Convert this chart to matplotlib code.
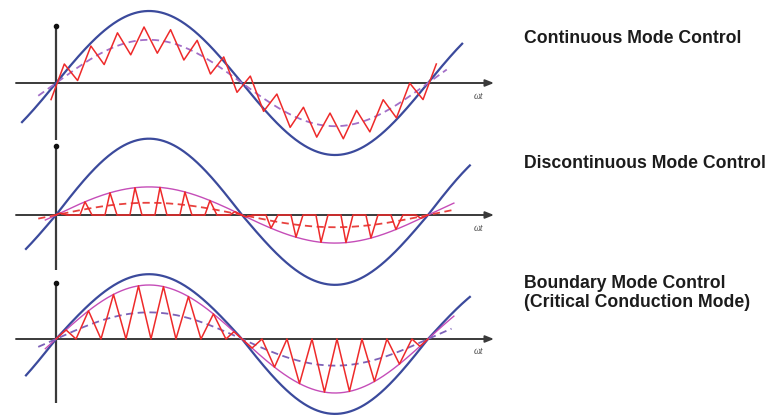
import numpy as np
import matplotlib.pyplot as plt

# ---- waveform data (amplitudes normalised to the first panel's line voltage) ----
modes = ['Continuous Mode Control',
         'Discontinuous Mode Control',
         'Boundary Mode Control\n(Critical Conduction Mode)']

v_peak = [1.00, 1.06, 0.90]      # line voltage, positive half
v_trough = [1.00, 0.97, 1.04]    # line voltage, negative half
i_avg = [0.60, 0.17, 0.37]       # average input current (dashed)
i_env = [None, 0.39, 0.75]       # peak current envelope

ccm_ripple = 0.18                # CCM ripple half height
ccm_ramps = 14                   # ramps per half line cycle
ccm_phase = -0.084               # rad, first valley

dcm_first = 0.49                 # rad, first spike after a zero crossing
dcm_step = 0.422                 # rad between spikes
dcm_rise, dcm_fall = 0.085, 0.118

bcm_first = 0.338                # rad, first zero touch
bcm_step = 0.422

# ---- layout ----
W, H = 768, 417
X0 = 56                          # vertical axis position, px
PX_RAD = 186 / np.pi             # px per radian
UNIT = 72                        # px per unit amplitude
axis_y = [83, 215, 339]
vaxis = [(26, 140), (146, 270), (283, 403)]
blue_span = [(-0.574, 6.86), (-0.507, 6.99), (-0.507, 6.99)]
dash_span = [(-0.30, 6.60), (-0.30, 6.68), (-0.30, 6.68)]
text_y = [38, 163, 293]

BLUE = '#3b4a9c'
RED = '#ee2a2a'
MAG = '#c54db8'
dash_col = ['#a36fc8', '#e8423f', '#7d62b8']
AXC = '#3a3a3a'

fig = plt.figure(figsize=(W / 100, H / 100), dpi=100)
ax = fig.add_axes([0, 0, 1, 1])
ax.set_xlim(-X0 / PX_RAD, (W - X0) / PX_RAD)
ax.set_ylim(H, 0)
ax.axis('off')


def ypx(p, v):
    return axis_y[p] - np.asarray(v) * UNIT


def px(x):
    return (x - X0) / PX_RAD


for p in range(3):
    # axes with arrow / dot
    ax.annotate('', xy=(px(494), axis_y[p]), xytext=(px(16), axis_y[p]),
                arrowprops=dict(arrowstyle='-|>,head_length=0.5,head_width=0.2',
                                color=AXC, lw=1.4, shrinkA=0, shrinkB=0))
    ax.plot([0, 0], vaxis[p], color=AXC, lw=1.6, solid_capstyle='butt')
    ax.plot(0, vaxis[p][0], 'o', color='#111111', ms=3)
    ax.text(px(478), axis_y[p] + 13, 'ωt', fontsize=7, style='italic',
            family=['Liberation Serif', 'DejaVu Serif'], color='#444444',
            ha='center', va='center')

    # line voltage
    th = np.linspace(*blue_span[p], 400)
    s = np.sin(th)
    v = np.where(s > 0, v_peak[p] * s, v_trough[p] * s)
    ax.plot(th, ypx(p, v), color=BLUE, lw=1.6, zorder=3)

    # current envelope
    if i_env[p] is not None:
        th = np.linspace(-0.18, 6.72, 400)
        ax.plot(th, ypx(p, i_env[p] * np.sin(th)), color=MAG, lw=1.0, zorder=4)

    # average current
    th = np.linspace(*dash_span[p], 400)
    ax.plot(th, ypx(p, i_avg[p] * np.sin(th)), color=dash_col[p], lw=1.3,
            dashes=(4, 2.5), zorder=5)

    # inductor current
    if p == 0:
        k = np.arange(2 * ccm_ramps + 2)
        tk = ccm_phase + k * np.pi / ccm_ramps
        ik = i_avg[0] * np.sin(tk) + ccm_ripple * np.where(k % 2 == 0, -1, 1)
    elif p == 1:
        tk, ik = [0.0], [0.0]
        for h in range(2):
            sg = 1 if h == 0 else -1
            for j in range(-1, 7):
                c = h * np.pi + dcm_first + j * dcm_step
                pk = i_env[1] * abs(np.sin(c)) * sg
                tk += [c - dcm_rise, c, c + dcm_fall]
                ik += [0.0, pk, 0.0]
        tk.append(2 * np.pi)
        ik.append(0.0)
    else:
        tk, ik = [], []
        for h in range(2):
            sg = 1 if h == 0 else -1
            z = h * np.pi
            touches = [z] + [z + bcm_first + j * bcm_step for j in range(7)] + [z + np.pi]
            for a, b in zip(touches[:-1], touches[1:]):
                m = (a + b) / 2
                tk += [a, m]
                ik += [0.0, i_env[2] * abs(np.sin(m)) * sg]
        tk.append(2 * np.pi)
        ik.append(0.0)
    ax.plot(tk, ypx(p, np.asarray(ik)), color=RED, lw=1.1, zorder=6)

    ax.text(px(524), text_y[p], modes[p], fontsize=12.7, fontweight='bold',
            family='Liberation Sans', color='#1c1c1c', ha='left', va='center',
            linespacing=1.13)

fig.savefig('out.png', dpi=100)
